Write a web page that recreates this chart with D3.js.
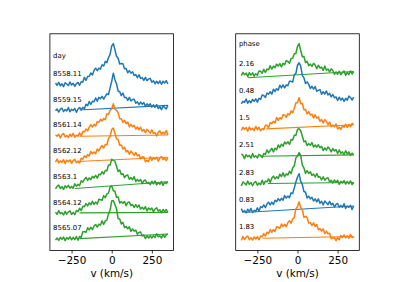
<!DOCTYPE html>
<html lang="en">

<head>
    <meta charset="UTF-8" />
    <title>Line profiles by day and phase</title>
    <script src="https://d3js.org/d3.v7.min.js"></script>
    <style>
        body {
            margin: 0;
            background: #fff;
        }

        svg text {
            font-family: "DejaVu Sans", sans-serif;
            fill: #000;
        }
    </style>
</head>

<body>
    <svg id="chart" width="399" height="282"></svg>

    <script>
        // velocity grid shared by every spectrum (km/s)
        const velocity = [-350, -340, -330, -320, -310, -300, -290, -280, -270, -260,
            -250, -240, -230, -220, -210, -200, -190, -180, -170, -160,
            -150, -140, -130, -120, -110, -100, -90, -80, -70, -60,
            -50, -40, -30, -20, -10, 0, 10, 20, 30, 40,
            50, 60, 70, 80, 90, 100, 110, 120, 130, 140,
            150, 160, 170, 180, 190, 200, 210, 220, 230, 240,
            250, 260, 270, 280, 290, 300, 310, 320, 330, 340, 350];

        const xTicks = [-250, 0, 250];

        // left panel: by day (normalised flux)
        const dayLabels = ["8558.11", "8559.15", "8561.14", "8562.12", "8563.1", "8564.12", "8565.07"];

        const flux_8558_11 = [1.05, 0.96, 1.08, 0.94, 1.02, 0.91, 1.06, 1.01, 0.95, 1.09,
            0.97, 1.04, 0.92, 1.03, 1.07, 0.96, 1.10, 1.09, 1.27, 1.15,
            1.30, 1.31, 1.44, 1.36, 1.54, 1.63, 1.53, 1.63, 1.59, 1.76,
            1.71, 1.89, 1.84, 2.04, 2.16, 2.49, 2.58, 2.35, 2.09, 2.01,
            1.79, 1.81, 1.80, 1.60, 1.61, 1.45, 1.53, 1.43, 1.49, 1.34,
            1.38, 1.26, 1.37, 1.23, 1.26, 1.15, 1.27, 1.14, 1.21, 1.23,
            1.08, 1.14, 1.02, 1.12, 1.03, 1.13, 1.00, 1.12, 1.05, 1.14, 1.01];
        const flux_8559_15 = [0.97, 1.04, 0.92, 1.03, 1.07, 0.94, 1.02, 0.96, 1.10, 0.93,
            1.03, 0.98, 1.06, 0.91, 1.04, 1.10, 1.01, 1.10, 1.05, 1.22,
            1.17, 1.33, 1.22, 1.34, 1.32, 1.47, 1.34, 1.49, 1.44, 1.53,
            1.42, 1.53, 1.63, 1.60, 1.87, 2.11, 2.43, 2.18, 2.02, 1.74,
            1.71, 1.56, 1.66, 1.49, 1.49, 1.37, 1.49, 1.35, 1.41, 1.42,
            1.26, 1.32, 1.21, 1.31, 1.22, 1.29, 1.14, 1.24, 1.17, 1.24,
            1.11, 1.20, 1.10, 1.21, 1.06, 1.13, 1.01, 1.16, 1.10, 1.04, 1.18];
        const flux_8561_14 = [1.03, 0.98, 1.06, 0.91, 1.04, 1.08, 0.95, 1.01, 0.93, 1.06,
            0.97, 1.09, 0.94, 1.02, 0.98, 1.11, 0.99, 1.16, 1.15, 1.26,
            1.19, 1.33, 1.43, 1.34, 1.44, 1.38, 1.55, 1.52, 1.64, 1.57,
            1.67, 1.62, 1.85, 1.83, 1.99, 2.04, 2.24, 2.03, 1.99, 1.90,
            1.66, 1.66, 1.52, 1.60, 1.47, 1.53, 1.35, 1.44, 1.35, 1.40,
            1.26, 1.34, 1.23, 1.33, 1.18, 1.24, 1.12, 1.25, 1.18, 1.10,
            1.23, 1.09, 1.12, 0.99, 1.13, 1.19, 1.06, 1.14, 1.07, 1.20, 1.03];
        const flux_8562_12 = [0.97, 1.09, 0.94, 1.02, 0.96, 1.07, 0.92, 1.05, 0.99, 1.06,
            0.93, 1.03, 1.08, 0.95, 1.02, 0.94, 1.12, 1.09, 1.22, 1.15,
            1.27, 1.21, 1.39, 1.30, 1.37, 1.30, 1.48, 1.41, 1.54, 1.62,
            1.52, 1.66, 1.65, 1.89, 1.97, 2.24, 2.30, 2.09, 1.88, 1.85,
            1.63, 1.64, 1.48, 1.55, 1.37, 1.42, 1.28, 1.40, 1.33, 1.24,
            1.35, 1.21, 1.26, 1.11, 1.18, 1.17, 0.99, 1.04, 0.99, 1.18,
            1.04, 1.15, 1.09, 1.16, 1.01, 1.14, 1.19, 1.07, 1.12, 1.03, 1.16];
        const flux_8563_1 = [0.93, 1.03, 1.08, 0.95, 1.02, 0.91, 1.05, 0.98, 1.07, 0.96,
            1.03, 0.96, 1.13, 1.04, 1.11, 1.06, 1.25, 1.19, 1.31, 1.38,
            1.26, 1.36, 1.29, 1.42, 1.36, 1.46, 1.35, 1.50, 1.48, 1.60,
            1.51, 1.65, 1.64, 1.86, 1.86, 2.08, 2.04, 2.01, 1.81, 1.61,
            1.67, 1.49, 1.52, 1.37, 1.45, 1.47, 1.31, 1.37, 1.29, 1.41,
            1.22, 1.30, 1.23, 1.30, 1.14, 1.25, 1.28, 1.14, 1.19, 1.10,
            1.23, 1.13, 1.24, 1.09, 1.17, 1.11, 1.22, 1.07, 1.19, 1.14, 1.21];
        const flux_8564_12 = [1.03, 0.94, 1.09, 0.97, 1.01, 0.92, 1.06, 0.95, 1.04, 1.08,
            0.94, 1.02, 0.93, 1.09, 1.05, 1.18, 1.09, 1.26, 1.24, 1.36,
            1.27, 1.39, 1.32, 1.45, 1.33, 1.42, 1.34, 1.53, 1.51, 1.49,
            1.67, 1.59, 1.74, 1.77, 2.00, 2.05, 1.86, 1.84, 1.61, 1.62,
            1.38, 1.44, 1.37, 1.44, 1.28, 1.40, 1.42, 1.28, 1.32, 1.21,
            1.32, 1.21, 1.31, 1.15, 1.22, 1.14, 1.24, 1.08, 1.19, 1.12,
            1.19, 1.05, 1.15, 1.20, 1.07, 1.12, 1.00, 1.13, 1.05, 1.13, 1.02];
        const flux_8565_07 = [0.94, 1.02, 0.93, 1.05, 0.97, 1.06, 0.92, 1.04, 0.98, 1.07,
            0.95, 1.05, 0.96, 1.08, 0.94, 1.08, 1.05, 1.27, 1.27, 1.25,
            1.42, 1.34, 1.44, 1.35, 1.49, 1.55, 1.45, 1.56, 1.52, 1.69,
            1.55, 1.69, 1.72, 1.96, 2.11, 2.46, 2.48, 2.33, 2.16, 1.78,
            1.76, 1.57, 1.63, 1.43, 1.47, 1.38, 1.46, 1.28, 1.38, 1.29,
            1.33, 1.17, 1.24, 1.26, 1.10, 1.14, 1.00, 1.11, 1.02, 1.11,
            1.02, 1.11, 1.04, 1.19, 1.07, 1.11, 1.02, 1.16, 1.05, 1.14, 1.18];

        // where the last, straight stretch of each trace ends (v, flux); null = none
        const dayTailV = [null, -200, -200, -212, -230, -200, -200];
        const dayTailFlux = [null, 1.00, 0.98, 1.00, 0.95, 1.00, 1.00];

        // right panel: by phase (normalised flux)
        const phaseLabels = ["2.16", "0.48", "1.5", "2.51", "2.83", "0.83", "1.83"];

        const flux_ph_2_16 = [0.95, 1.07, 0.98, 1.04, 0.92, 1.06, 0.97, 1.05, 0.93, 1.02,
            0.96, 1.12, 1.11, 1.04, 1.18, 1.07, 1.19, 1.17, 1.31, 1.19,
            1.30, 1.24, 1.37, 1.30, 1.39, 1.27, 1.40, 1.35, 1.50, 1.47,
            1.40, 1.58, 1.59, 1.75, 1.76, 2.02, 2.12, 1.87, 1.64, 1.65,
            1.43, 1.47, 1.31, 1.37, 1.29, 1.40, 1.34, 1.20, 1.33, 1.23,
            1.26, 1.14, 1.30, 1.15, 1.19, 1.09, 1.20, 1.14, 1.00, 1.09,
            1.00, 1.11, 0.98, 1.06, 1.12, 0.96, 1.07, 0.99, 1.12, 1.01, 1.10];
        const flux_ph_0_48 = [0.92, 1.01, 0.97, 1.09, 0.94, 1.03, 0.96, 1.08, 1.01, 1.10,
            0.98, 1.12, 1.08, 1.24, 1.22, 1.15, 1.31, 1.27, 1.36, 1.27,
            1.45, 1.37, 1.47, 1.42, 1.60, 1.50, 1.61, 1.50, 1.61, 1.58,
            1.74, 1.74, 1.71, 1.98, 2.03, 2.33, 2.42, 2.30, 1.96, 1.87,
            1.66, 1.72, 1.63, 1.48, 1.56, 1.46, 1.55, 1.38, 1.41, 1.44,
            1.27, 1.36, 1.27, 1.39, 1.24, 1.30, 1.17, 1.26, 1.14, 1.17,
            1.04, 1.16, 1.05, 1.13, 1.01, 1.12, 1.05, 1.20, 1.15, 1.05, 1.16];
        const flux_ph_1_5 = [0.93, 1.06, 0.99, 1.05, 0.92, 1.07, 0.96, 1.02, 0.94, 1.09,
            0.97, 1.06, 0.93, 1.01, 0.97, 1.13, 1.13, 1.04, 1.23, 1.19,
            1.28, 1.22, 1.42, 1.31, 1.41, 1.36, 1.52, 1.51, 1.42, 1.56,
            1.51, 1.66, 1.59, 1.76, 1.96, 1.96, 2.14, 1.92, 1.93, 1.70,
            1.71, 1.55, 1.63, 1.51, 1.54, 1.40, 1.52, 1.39, 1.44, 1.28,
            1.34, 1.22, 1.34, 1.27, 1.16, 1.25, 1.08, 1.14, 1.08, 1.18,
            1.00, 1.07, 0.98, 1.11, 1.06, 1.17, 1.05, 1.16, 1.08, 1.20, 1.15];
        const flux_ph_2_51 = [1.08, 1.04, 0.91, 1.06, 0.98, 1.03, 0.93, 1.10, 0.96, 1.02,
            0.94, 1.07, 1.03, 0.95, 1.10, 1.07, 1.23, 1.12, 1.21, 1.29,
            1.16, 1.29, 1.24, 1.41, 1.32, 1.44, 1.37, 1.52, 1.45, 1.53,
            1.43, 1.61, 1.59, 1.77, 1.77, 1.98, 2.01, 1.93, 1.74, 1.53,
            1.56, 1.39, 1.46, 1.40, 1.50, 1.34, 1.41, 1.33, 1.42, 1.31,
            1.36, 1.21, 1.30, 1.22, 1.34, 1.27, 1.16, 1.28, 1.19, 1.24,
            1.10, 1.23, 1.11, 1.16, 1.06, 1.20, 1.08, 1.16, 1.03, 1.11, 1.05];
        const flux_ph_2_83 = [0.91, 1.06, 1.01, 0.95, 1.09, 0.97, 1.04, 0.92, 1.03, 1.07,
            0.94, 1.02, 0.96, 1.12, 0.97, 1.09, 1.06, 1.17, 1.04, 1.20,
            1.27, 1.17, 1.25, 1.19, 1.34, 1.26, 1.39, 1.25, 1.35, 1.31,
            1.45, 1.36, 1.57, 1.65, 1.94, 2.01, 2.13, 2.03, 1.67, 1.57,
            1.37, 1.47, 1.37, 1.43, 1.30, 1.35, 1.24, 1.37, 1.23, 1.25,
            1.13, 1.25, 1.12, 1.19, 1.21, 1.06, 1.12, 1.02, 1.13, 1.04,
            1.12, 0.97, 1.08, 1.02, 1.11, 0.98, 1.08, 0.99, 1.10, 0.96, 1.04];
        const flux_ph_0_83 = [1.08, 0.95, 1.01, 0.93, 1.06, 0.97, 1.09, 0.94, 1.02, 0.98,
            1.11, 0.99, 1.15, 1.12, 1.22, 1.12, 1.25, 1.32, 1.22, 1.32,
            1.23, 1.39, 1.34, 1.45, 1.37, 1.46, 1.39, 1.56, 1.47, 1.54,
            1.48, 1.66, 1.63, 1.84, 2.06, 2.24, 2.36, 2.08, 1.97, 1.71,
            1.68, 1.47, 1.54, 1.44, 1.50, 1.36, 1.44, 1.33, 1.44, 1.28,
            1.35, 1.22, 1.36, 1.30, 1.23, 1.35, 1.22, 1.28, 1.14, 1.24,
            1.27, 1.13, 1.20, 1.13, 1.26, 1.09, 1.18, 1.13, 1.20, 1.05, 1.18];
        const flux_ph_1_83 = [0.92, 1.06, 0.95, 1.04, 1.08, 0.94, 1.02, 0.93, 1.05, 0.97,
            1.06, 0.94, 1.08, 1.05, 1.17, 1.08, 1.22, 1.17, 1.32, 1.21,
            1.32, 1.24, 1.42, 1.40, 1.36, 1.52, 1.42, 1.51, 1.42, 1.57,
            1.64, 1.55, 1.70, 1.76, 2.08, 2.15, 2.33, 2.12, 2.04, 1.76,
            1.80, 1.75, 1.55, 1.57, 1.46, 1.56, 1.43, 1.50, 1.31, 1.35,
            1.26, 1.34, 1.17, 1.26, 1.16, 1.18, 0.98, 1.01, 1.02, 0.91,
            1.02, 0.94, 1.10, 1.03, 1.12, 1.01, 1.09, 1.00, 1.14, 1.02, 1.06];

        const phaseTailV = [-310, null, -194, -236, -185, -331, -217];
        const phaseTailFlux = [0.87, null, 1.00, 1.00, 1.00, 0.94, 1.00];

        const blue = "#1f77b4", orange = "#ff7f0e", green = "#2ca02c";
        const dayColors = [blue, blue, orange, orange, green, green, green];
        const phaseColors = [green, blue, orange, green, green, blue, orange];

        const svg = d3.select("#chart");
        const axTop = 33.8, axBottom = 250.5;

        function drawPanel(left, right, header, labels, spectra, tailV, tailFlux, colors) {
            // each spectrum is shifted down by 1 per row
            const rows = spectra.map((fl, i) => fl.map((f, k) => [velocity[k], f - i]));
            const tails = spectra.map((fl, i) => tailV[i] === null ? null :
                [[velocity[velocity.length - 1], fl[fl.length - 1] - i], [tailV[i], tailFlux[i] - i]]);

            // matplotlib-like 5% margins
            const vExt = d3.extent(velocity);
            const vPad = (vExt[1] - vExt[0]) * 0.05;
            const yExt = d3.extent(rows.flat(), d => d[1]);
            const yPad = (yExt[1] - yExt[0]) * 0.05;

            const x = d3.scaleLinear().domain([vExt[0] - vPad, vExt[1] + vPad]).range([left, right]);
            const y = d3.scaleLinear().domain([yExt[0] - yPad, yExt[1] + yPad]).range([axBottom, axTop]);

            const g = svg.append("g");

            const line = d3.line().x(d => x(d[0])).y(d => y(d[1]));
            rows.forEach((pts, i) => {
                if (tails[i]) {
                    g.append("path")
                        .attr("d", line(tails[i]))
                        .attr("fill", "none")
                        .attr("stroke", colors[i])
                        .attr("stroke-width", 1.1);
                }
                g.append("path")
                    .attr("d", line(pts))
                    .attr("fill", "none")
                    .attr("stroke", colors[i])
                    .attr("stroke-width", 1.5)
                    .attr("stroke-linejoin", "round");
            });

            // labels
            const labelV = -365;
            g.append("text")
                .attr("x", x(labelV))
                .attr("y", y(2.04))
                .attr("font-size", "6.9px")
                .text(header);
            labels.forEach((t, i) => {
                g.append("text")
                    .attr("x", x(labelV))
                    .attr("y", y(1.32 - i))
                    .attr("font-size", "6.9px")
                    .text(t);
            });

            // frame
            g.append("rect")
                .attr("x", left)
                .attr("y", axTop)
                .attr("width", right - left)
                .attr("height", axBottom - axTop)
                .attr("fill", "none")
                .attr("stroke", "#000")
                .attr("stroke-width", 0.8);

            const ax = g.append("g")
                .attr("transform", `translate(0,${axBottom})`)
                .call(d3.axisBottom(x).tickValues(xTicks).tickSizeOuter(0).tickSize(3).tickPadding(3));
            ax.select(".domain").remove();
            ax.selectAll("line").attr("stroke-width", 0.8);
            ax.selectAll("text")
                .attr("font-size", "10.4px")
                .attr("font-family", "DejaVu Sans, sans-serif");

            g.append("text")
                .attr("x", (left + right) / 2)
                .attr("y", 277)
                .attr("text-anchor", "middle")
                .attr("font-size", "10.4px")
                .text("v (km/s)");
        }

        drawPanel(49.9, 173.5, "day", dayLabels,
            [flux_8558_11, flux_8559_15, flux_8561_14, flux_8562_12, flux_8563_1, flux_8564_12, flux_8565_07],
            dayTailV, dayTailFlux, dayColors);

        drawPanel(235.7, 359.3, "phase", phaseLabels,
            [flux_ph_2_16, flux_ph_0_48, flux_ph_1_5, flux_ph_2_51, flux_ph_2_83, flux_ph_0_83, flux_ph_1_83],
            phaseTailV, phaseTailFlux, phaseColors);
    </script>
</body>

</html>
